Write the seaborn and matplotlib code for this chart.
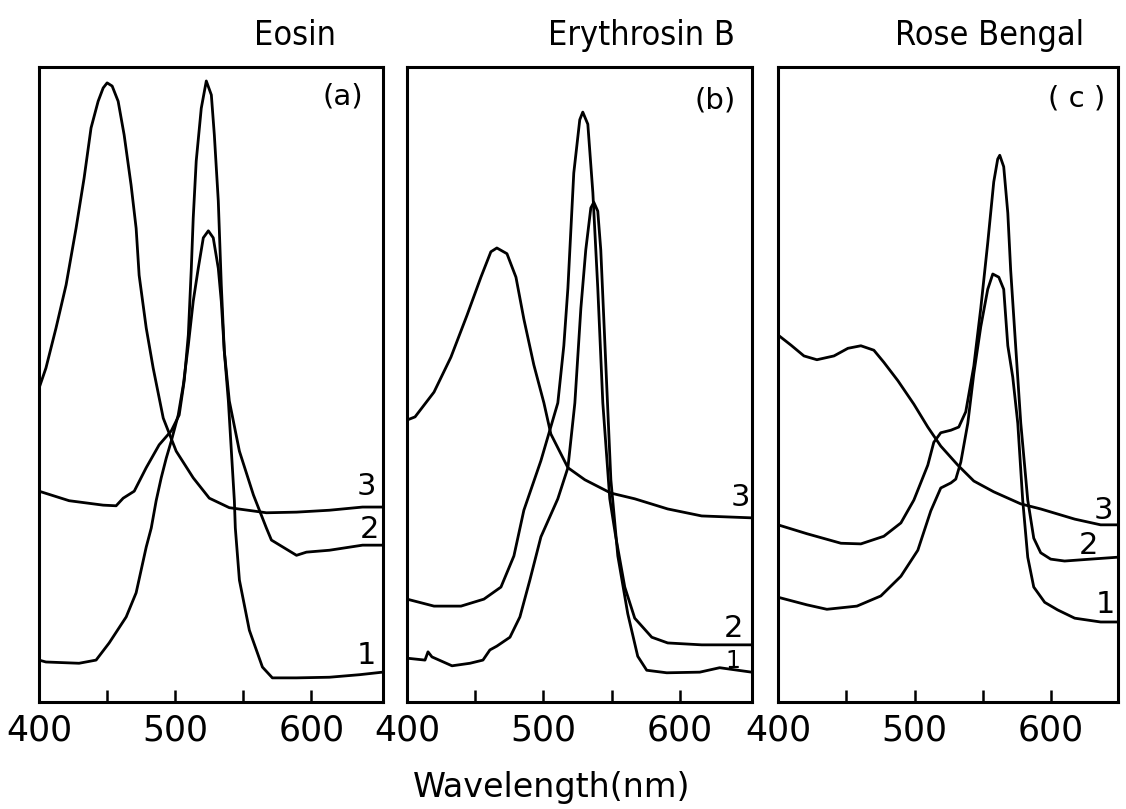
import numpy as np
import pandas as pd
import matplotlib
matplotlib.use("Agg")
import matplotlib.pyplot as plt
import seaborn as sns

# ---- absorption spectra (wavelength in nm, relative absorbance 0-100) ----
# Eosin
eosin_wl_1 = [400, 405.1, 429.4, 441.9, 451.5, 464, 471.3, 478.7, 482.4, 486, 489.7, 493.4,
              497.1, 502.2, 505.9, 509.6, 513.2, 516.9, 520.6, 524.3, 527.9, 531.6, 533.8,
              536, 539, 541.2, 543.4, 544.1, 547.1, 554.4, 564, 571.3, 589, 613.2, 635.3, 652.2]
eosin_ab_1 = [6.6, 6.3, 6.1, 6.6, 9.3, 13.4, 17.2, 24.4, 27.4, 31.7, 35.3, 38.4,
              41.1, 45.2, 49.9, 56.2, 63.1, 68.3, 73.1, 74.2, 73.1, 68.3, 63.1,
              55.3, 47.4, 39.5, 31.7, 27.4, 19.2, 11.3, 5.5, 3.8, 3.8, 3.9, 4.3, 4.7]
eosin_wl_2 = [400, 422.1, 447.1, 456.6, 461.8, 469.9, 478.7, 488.2, 497.1, 502.9, 506.6, 509.6,
              511.8, 513.2, 515.4, 519.1, 522.8, 526.5, 528.7, 531.6, 533.8, 536, 539.7,
              547.1, 557.4, 566.9, 570.6, 589, 596.3, 613.2, 637.5, 652.2]
eosin_ab_2 = [33.2, 31.7, 31.0, 30.9, 32.1, 33.2, 36.9, 40.5, 42.7, 45.2, 50.6, 57.8,
              68.3, 76.2, 85.2, 93.5, 97.8, 95.6, 89.3, 78.9, 65.7, 55.3, 47.4,
              39.5, 32.6, 27.4, 25.5, 23.1, 23.6, 23.9, 24.7, 24.7]
eosin_wl_3 = [400, 405.1, 412.5, 419.9, 427.2, 433.1, 438.2, 443.4, 447.1, 450, 453.7, 458.1,
              462.5, 467.6, 471.3, 473.5, 478.7, 483.8, 491.2, 500.7, 513.2, 525, 539.7,
              566.9, 589, 613.2, 637.5, 652.2]
eosin_ab_3 = [49.4, 52.6, 58.9, 65.7, 74.6, 82.5, 90.4, 94.6, 96.7, 97.5, 97.0, 94.6,
              89.3, 81.4, 74.6, 67.2, 58.9, 52.6, 44.7, 39.5, 35.3, 32.1, 30.6,
              29.8, 29.9, 30.2, 30.7, 30.7]

# Erythrosin B
eryth_wl_1 = [400, 413.2, 415.4, 418.3, 433, 446.2, 455.7, 460.8, 465.9, 475.5, 482.8, 490.1,
              498.2, 510.6, 518, 523.1, 527.5, 531.1, 534.8, 537, 539.9, 542.1, 545.8,
              549.5, 554.6, 561.9, 569.2, 575.8, 590.5, 614.7, 629.3, 652.7]
eryth_ab_1 = [6.9, 6.6, 7.9, 7.1, 5.7, 6.1, 6.6, 8.2, 8.8, 10.2, 13.4, 19.2,
              26.0, 32.0, 36.9, 47.1, 62.0, 71.2, 77.8, 78.7, 77.3, 71.2, 53.1,
              35.0, 23.0, 13.9, 7.2, 5.0, 4.6, 4.7, 5.4, 4.7]
eryth_wl_2 = [400, 419.8, 439.6, 456.4, 468.9, 478.4, 485.7, 498.2, 510.6, 515, 518, 522.3,
              526.7, 528.9, 532.6, 536.3, 539.9, 543.6, 548.7, 553.1, 559.7, 567, 579.5,
              591.2, 616.1, 652.7]
eryth_ab_2 = [16.2, 15.1, 15.1, 16.2, 18.1, 23.0, 30.2, 38.0, 47.1, 56.1, 65.2, 83.3,
              91.7, 92.9, 91.0, 80.2, 65.2, 47.1, 32.0, 26.0, 18.1, 13.2, 10.2,
              9.3, 9.0, 9.0]
eryth_wl_3 = [400, 405.9, 419.8, 432.2, 444, 454.2, 461.5, 465.9, 473.3, 479.9, 485.7, 493,
              500.4, 505.5, 518, 530.4, 549.5, 567, 591.2, 616.1, 652.7]
eryth_ab_3 = [44.4, 44.9, 48.8, 54.3, 60.9, 66.9, 70.9, 71.5, 70.6, 66.9, 60.3, 53.1,
              47.1, 42.2, 36.9, 35.0, 32.9, 32.0, 30.4, 29.3, 29.0]

# Rose Bengal
rose_wl_1 = [400, 421.2, 435.8, 457.8, 475.3, 490, 502.4, 511.9, 519.2, 526.6, 530.2, 533.9,
             539, 543.4, 548.5, 553.6, 557.3, 561.7, 565.3, 568.3, 571.9, 575.6, 579.2,
             582.9, 587.3, 595.3, 604.8, 617.3, 636.3, 648.7]
rose_ab_1 = [16.5, 15.3, 14.6, 15.1, 16.7, 19.8, 23.9, 30.1, 33.7, 34.5, 35.1, 37.8,
             43.9, 51.7, 59.1, 65.0, 67.4, 66.9, 65.0, 56.1, 51.2, 43.9, 31.8,
             22.8, 18.1, 15.7, 14.5, 13.2, 12.6, 12.6]
rose_wl_2 = [400, 421.2, 446.1, 460.7, 477.5, 490, 499.5, 509.7, 514.1, 519.2, 526.6, 532.4,
             537.5, 543.4, 548.5, 553.6, 558, 560.9, 562.4, 565.3, 568.3, 570.4, 574.1,
             577.8, 582.9, 587.3, 592.4, 599.7, 609.9, 629, 648.7]
rose_ab_2 = [27.9, 26.5, 25.0, 24.9, 26.1, 28.2, 31.8, 37.3, 40.9, 42.4, 42.8, 43.3,
             45.7, 52.9, 62.0, 72.3, 81.9, 85.5, 86.1, 84.3, 77.0, 68.0, 55.9,
             43.9, 31.8, 25.8, 23.5, 22.5, 22.2, 22.5, 22.8]
rose_wl_3 = [400, 409.5, 419, 428.5, 441, 451.2, 460.7, 470.2, 477.5, 487.8, 499.5, 509.7,
             519.2, 531.7, 543.4, 558, 577.8, 592.4, 617.3, 636.3, 648.7]
rose_ab_3 = [57.8, 56.2, 54.5, 53.9, 54.5, 55.7, 56.1, 55.4, 53.5, 50.6, 46.9, 43.3,
             40.3, 37.3, 34.8, 33.1, 31.2, 30.4, 28.8, 27.9, 27.9]

dye_names = ["Eosin", "Erythrosin B", "Rose Bengal"]
panel_tags = ["(a)", "(b)", "( c )"]
curve_ids = ["1", "2", "3"]
tick_major = [400, 500, 600]
tick_minor = [450, 550]
x_label = "Wavelength(nm)"

spectra = [
    [(eosin_wl_1, eosin_ab_1), (eosin_wl_2, eosin_ab_2), (eosin_wl_3, eosin_ab_3)],
    [(eryth_wl_1, eryth_ab_1), (eryth_wl_2, eryth_ab_2), (eryth_wl_3, eryth_ab_3)],
    [(rose_wl_1, rose_ab_1), (rose_wl_2, rose_ab_2), (rose_wl_3, rose_ab_3)],
]

# ---- layout ----
sns.set_theme(style="white")
plt.rcParams["font.family"] = ["DejaVu Sans"]

W, H = 1126, 809
fig = plt.figure(figsize=(W / 100, H / 100), dpi=100)

# axes boxes in pixels: (left, right), common top/bottom
boxes = [(39, 383), (407, 752), (778, 1118)]
top_px, bot_px = 67, 702
xlims = [(400, 652.5), (400, 653), (400, 649)]

title_x = [295, 641, 990]
tag_pos = [(0.884, 0.953), (0.893, 0.948), (0.879, 0.951)]
label_pos = [
    [(0.953, 0.074), (0.962, 0.271), (0.953, 0.339)],
    [(0.945, 0.065), (0.945, 0.115), (0.965, 0.322)],
    [(0.962, 0.153), (0.912, 0.246), (0.956, 0.301)],
]
label_size = [[22, 22, 22], [17, 22, 22], [22, 22, 22]]

for i, ((l, r), name) in enumerate(zip(boxes, dye_names)):
    ax = fig.add_axes([l / W, 1 - bot_px / H, (r - l) / W, (bot_px - top_px) / H])
    for k, (wl, ab) in enumerate(spectra[i]):
        df = pd.DataFrame({"wavelength": wl, "absorbance": ab})
        sns.lineplot(data=df, x="wavelength", y="absorbance", ax=ax, color="black",
                     linewidth=2.0, estimator=None, sort=False,
                     solid_joinstyle="round", solid_capstyle="round")
        lx, ly = label_pos[i][k]
        ax.text(lx, ly, curve_ids[k], transform=ax.transAxes, ha="center", va="center",
                fontsize=label_size[i][k], color="black")
    ax.set_xlim(*xlims[i])
    ax.set_ylim(0, 100)
    ax.set_xlabel("")
    ax.set_ylabel("")
    ax.set_yticks([])
    ax.set_xticks(tick_major)
    ax.set_xticks(tick_minor, minor=True)
    ax.tick_params(axis="x", which="both", direction="in", length=9, width=1.8,
                   bottom=True, top=False, color="black", pad=8,
                   labelsize=25, labelcolor="black")
    for sp in ax.spines.values():
        sp.set_visible(True)
        sp.set_color("black")
        sp.set_linewidth(2.2)
    tx, ty = tag_pos[i]
    ax.text(tx, ty, panel_tags[i], transform=ax.transAxes, ha="center", va="center",
            fontsize=21, color="black")
    fig.text(title_x[i] / W, 1 - 45 / H, name, ha="center", va="baseline",
             fontsize=24.5, color="black", fontstretch="condensed")

fig.text(552 / W, 1 - 797 / H, x_label, ha="center", va="baseline", fontsize=24,
         color="black")

fig.savefig("out.png", dpi=100, facecolor="white")
